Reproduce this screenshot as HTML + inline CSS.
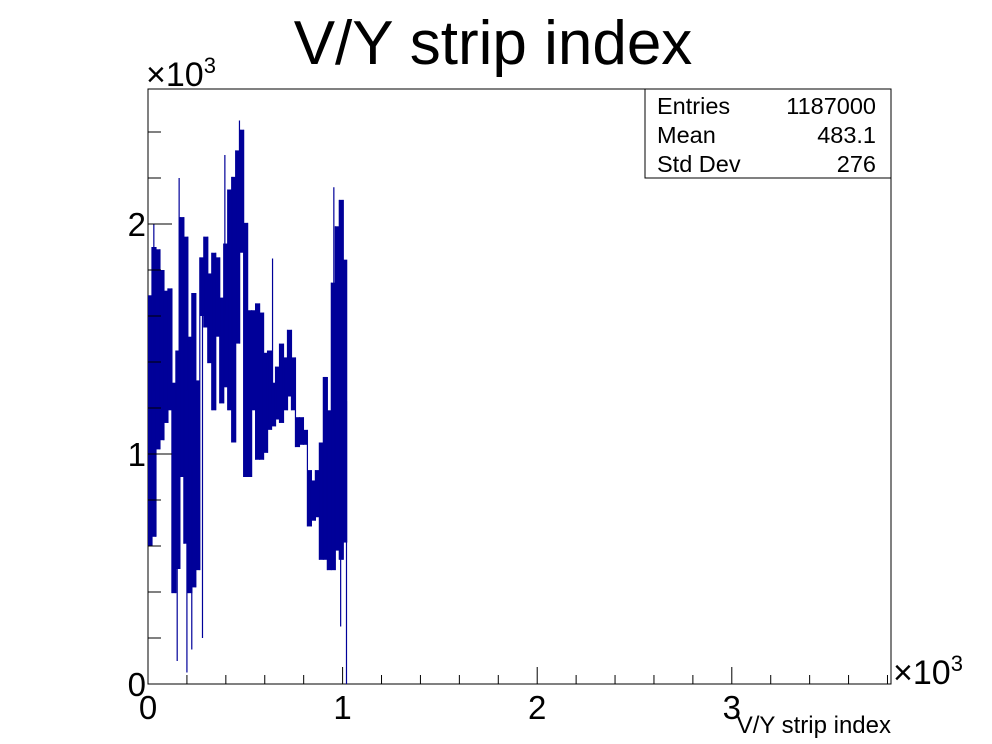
<!DOCTYPE html>
<html><head><meta charset="utf-8"><style>
body{margin:0;background:#fff;}
svg{display:block;font-family:"Liberation Sans",sans-serif;}
</style></head><body>
<svg id="c" width="992" height="744" viewBox="0 0 992 744">
<text x="493" y="64" text-anchor="middle" font-size="62">V/Y strip index</text>
<rect x="148" y="89" width="743" height="595" fill="none" stroke="#000" stroke-width="1"/>
<g id="bars"></g>
<g id="axes"></g>
<text x="146" y="86" font-size="34">×10<tspan dy="-13" font-size="22">3</tspan></text>
<text x="893" y="684" font-size="34">×10<tspan dy="-13" font-size="22">3</tspan></text>
<text x="891" y="733" text-anchor="end" font-size="24">V/Y strip index</text>
<g>
<rect x="645" y="89" width="246" height="89" fill="#fff" stroke="#000" stroke-width="1"/>
<text x="657" y="114" font-size="23.5">Entries</text><text x="876" y="114" font-size="23.5" text-anchor="end">1187000</text>
<text x="657" y="143" font-size="23.5">Mean</text><text x="876" y="143" font-size="23.5" text-anchor="end">483.1</text>
<text x="657" y="172" font-size="23.5">Std Dev</text><text x="876" y="172" font-size="23.5" text-anchor="end">276</text>
</g>
</svg>
<script>
const groupHi=[1690,1900,1890,1800,1710,1720,1310,1450,2030,1945,1510,1700,1320,1855,1945,1785,1875,1855,1680,1915,2150,2205,2320,2410,2005,1625,1625,1655,1615,1440,1450,1310,1380,1480,1420,1540,1420,1160,1160,1105,930,885,930,1050,1335,1190,1745,1990,2105,1845];
const groupLo=[600,640,1020,1060,1135,1190,395,500,900,610,395,420,495,1600,1550,1395,1190,1510,1220,1290,1190,1050,1480,1875,900,900,1190,975,975,1005,1105,1120,1150,1135,1190,1250,1190,1030,1040,1040,685,710,725,540,540,495,495,580,540,615];
const spikeStrip=[160,470,955,150,200,225,395,640,1020,30,280,990];
const spikeVal=[2200,2450,2160,100,50,150,2300,1850,0,2000,200,250];
const xTicks=["0","1","2","3"];
const yTicks=["0","1","2"];
const NS="http://www.w3.org/2000/svg";
const X0=148,X1=891,Y0=684,Y1=89;
const xPer=194.6/1000, yPer=230/1000;
const xs=v=>X0+v*xPer, ys=v=>Y0-v*yPer;
const stripsPerGroup=1024/groupHi.length;
const bars=document.getElementById('bars');
function vline(x,v1,v2,name){
  const l=document.createElementNS(NS,'line');
  l.setAttribute('x1',x);l.setAttribute('x2',x);
  l.setAttribute('y1',ys(v1));l.setAttribute('y2',ys(v2));
  l.setAttribute('stroke','#000099');l.setAttribute('stroke-width','1.2');
  
  
  bars.appendChild(l);
}
groupHi.forEach((h,i)=>{
  const r=document.createElementNS(NS,'rect');
  const a=xs(i*stripsPerGroup), b=xs((i+1)*stripsPerGroup);
  r.setAttribute('x',a);r.setAttribute('width',b-a);
  r.setAttribute('y',ys(h));r.setAttribute('height',ys(groupLo[i])-ys(h));
  r.setAttribute('fill','#000099');
  
  
  bars.appendChild(r);
  if(i>0){
    const lo=Math.min(groupLo[i],groupLo[i-1]), hi=Math.max(groupHi[i],groupHi[i-1]);
    vline(a,lo,hi,'bin-transition');
  }
});
spikeStrip.forEach((s,i)=>{
  const g=Math.min(groupHi.length-1,Math.floor(s/stripsPerGroup));
  const mid=(groupHi[g]+groupLo[g])/2;
  vline(xs(s),mid,spikeVal[i],'bin-spike');
});
const ax=document.getElementById('axes');
function line(x1,y1,x2,y2,name){const l=document.createElementNS(NS,'line');
  l.setAttribute('x1',x1);l.setAttribute('y1',y1);l.setAttribute('x2',x2);l.setAttribute('y2',y2);
  l.setAttribute('stroke','#000');l.setAttribute('stroke-width','1');
  
  
  ax.appendChild(l);}
function txt(x,y,s,anchor,name){const t=document.createElementNS(NS,'text');
  t.setAttribute('x',x);t.setAttribute('y',y);t.setAttribute('font-size','33');t.setAttribute('text-anchor',anchor);
  t.textContent=s;
  
  
  ax.appendChild(t);}
for(let v=0; xs(v)<=X1+0.5; v+=200){const major=v%1000===0;line(xs(v),Y0,xs(v),Y0-(major?17:9),'x-tick');}
for(let v=0; ys(v)>=Y1-0.5; v+=200){const major=v%1000===0;line(X0,ys(v),X0+(major?24:13),ys(v),'y-tick');}
xTicks.forEach((s,i)=>txt(xs(i*1000),Y0+35,s,'middle','x-tick-label'));
yTicks.forEach((s,i)=>txt(X0-2,ys(i*1000)+12,s,'end','y-tick-label'));
</script>
</body></html>
